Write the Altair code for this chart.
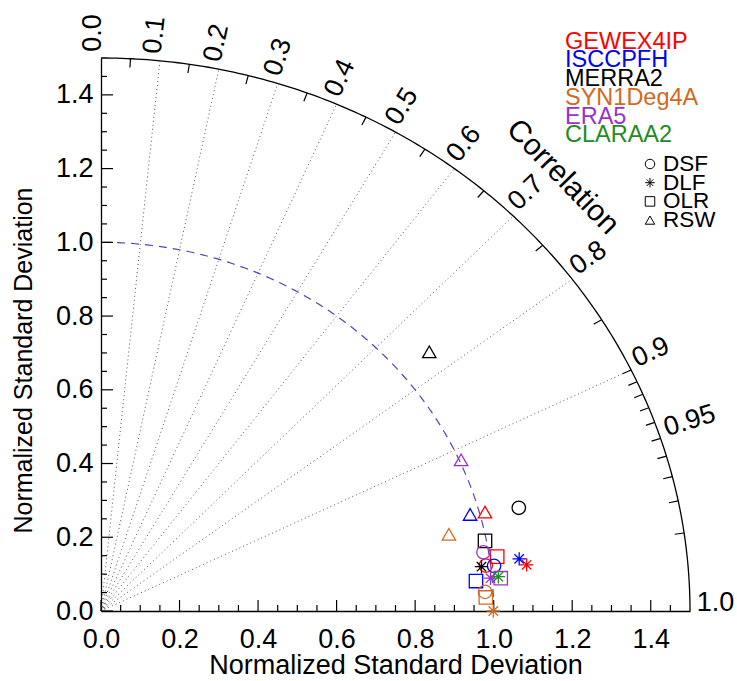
import altair as alt
import numpy as np
import pandas as pd

# ---------------- data ----------------
datasets = ["GEWEX4IP", "ISCCPFH", "MERRA2", "SYN1Deg4A", "ERA5", "CLARAA2"]
ds_colors = ["#FF0000", "#0000FF", "#000000", "#D2691E", "#9932CC", "#228B22"]
variables = ["DSF", "DLF", "OLR", "RSW"]

pt_dataset = ["GEWEX4IP"] * 4 + ["ISCCPFH"] * 4 + ["MERRA2"] * 4 + ["SYN1Deg4A"] * 4 + ["ERA5"] * 4 + ["CLARAA2"]
pt_var = ["DSF", "DLF", "OLR", "RSW"] * 5 + ["DLF"]
pt_std = [0.9877, 1.0912, 1.0197, 1.0141,
          1.0085, 1.0743, 0.9584, 0.9758,
          1.1002, 0.9764, 0.9963, 1.0923,
          0.9794, 0.9990, 0.9807, 0.9101,
          0.9869, 0.9960, 1.0219, 1.0045,
          1.0162]
pt_corr = [0.9922, 0.9934, 0.9895, 0.9644,
           0.9926, 0.9913, 0.9964, 0.9633,
           0.9671, 0.9924, 0.9816, 0.7654,
           0.9986, 1.0000, 0.9993, 0.9735,
           0.9869, 0.9960, 0.9962, 0.9129,
           0.9958]

corr_labels = [0.0, 0.1, 0.2, 0.3, 0.4, 0.5, 0.6, 0.7, 0.8, 0.9, 0.95, 1.0]
corr_label_text = ["0.0", "0.1", "0.2", "0.3", "0.4", "0.5", "0.6", "0.7", "0.8", "0.9", "0.95", "1.0"]
corr_rays = [0.1, 0.2, 0.3, 0.4, 0.5, 0.6, 0.7, 0.8, 0.9]
corr_ticks = [0.05, 0.15, 0.25, 0.35, 0.45, 0.55, 0.65, 0.75, 0.85,
              0.9, 0.91, 0.92, 0.93, 0.94, 0.95, 0.96, 0.97, 0.98, 0.99]
axis_labels = [0.0, 0.2, 0.4, 0.6, 0.8, 1.0, 1.2, 1.4]
axis_minor = [0.05, 0.1, 0.15, 0.25, 0.3, 0.35, 0.45, 0.5, 0.55, 0.65, 0.7, 0.75,
              0.85, 0.9, 0.95, 1.05, 1.1, 1.15, 1.25, 1.3, 1.35, 1.45]

W, H = 589, 553
RMAX = 1.5
FONT = "Liberation Sans"
ASTER = "M0,-1L0,1M-1,0L1,0M-0.7,-0.7L0.7,0.7M-0.7,0.7L0.7,-0.7"
shape_range = ["circle", ASTER, "square", "triangle-up"]

# ---------------- derived tables ----------------
pts = pd.DataFrame({"dataset": pt_dataset, "var": pt_var, "std": pt_std, "corr": pt_corr})
pts["x"] = pts["std"] * pts["corr"]
pts["y"] = pts["std"] * np.sqrt(np.clip(1 - pts["corr"] ** 2, 0, None))

ang = np.linspace(0, np.pi / 2, 181)
arc_outer = pd.DataFrame({"x": RMAX * np.cos(ang), "y": RMAX * np.sin(ang), "o": np.arange(len(ang))})
arc_ref = pd.DataFrame({"x": np.cos(ang), "y": np.sin(ang), "o": np.arange(len(ang))})

rays = pd.DataFrame({"c": corr_rays})
rays["x"] = 0.0
rays["y"] = 0.0
rays["x2"] = RMAX * rays["c"]
rays["y2"] = RMAX * np.sqrt(1 - rays["c"] ** 2)

tk = pd.DataFrame({"c": corr_ticks})
s = np.sqrt(1 - tk["c"] ** 2)
tk["x"] = RMAX * tk["c"]
tk["y"] = RMAX * s
tk["x2"] = (RMAX - 0.024) * tk["c"]
tk["y2"] = (RMAX - 0.024) * s

lab = pd.DataFrame({"c": corr_labels, "t": corr_label_text})
ls = np.sqrt(1 - lab["c"] ** 2)
lab["x"] = 1.517 * lab["c"]
lab["y"] = 1.517 * ls
phi = np.degrees(np.arctan2(ls * H / RMAX, lab["c"] * W / RMAX))
lab["ang"] = (360 - phi) % 360

xscale = alt.Scale(domain=[0, RMAX], nice=False, zero=False)
yscale = alt.Scale(domain=[0, RMAX], nice=False, zero=False)

xaxis = alt.Axis(values=axis_labels, format=".1f", ticks=False, tickSize=0, grid=False,
                 labelFontSize=27, labelFont=FONT, labelPadding=15, labelFlush=False,
                 labelColor="black", title="Normalized Standard Deviation", titleFont=FONT,
                 titleFontSize=27, titleFontWeight="normal", titleColor="black", titlePadding=0,
                 domainColor="black", domainWidth=1.3)
yaxis = alt.Axis(values=axis_labels, format=".1f", ticks=False, tickSize=0, grid=False,
                 labelFontSize=27, labelFont=FONT, labelPadding=8, labelFlush=False,
                 labelColor="black", title="Normalized Standard Deviation", titleFont=FONT,
                 titleFontSize=25, titleFontWeight="normal", titleColor="black", titlePadding=19,
                 titleY=302, domainColor="black", domainWidth=1.3)


def X(field):
    return alt.X(field, scale=xscale, axis=xaxis)


def Y(field):
    return alt.Y(field, scale=yscale, axis=yaxis)


outer = alt.Chart(arc_outer).mark_line(color="black", strokeWidth=1.3).encode(
    x=X("x:Q"), y=Y("y:Q"), order="o:Q")

ref = alt.Chart(arc_ref).mark_line(color="#6040B0", strokeWidth=1.2, strokeDash=[8, 6]).encode(
    x=X("x:Q"), y=Y("y:Q"), order="o:Q")

ray_layer = alt.Chart(rays).mark_rule(color="#555555", strokeWidth=1, strokeDash=[1, 3]).encode(
    x=X("x:Q"), y=Y("y:Q"), x2="x2:Q", y2="y2:Q")

tick_layer = alt.Chart(tk).mark_rule(color="black", strokeWidth=1.2).encode(
    x=X("x:Q"), y=Y("y:Q"), x2="x2:Q", y2="y2:Q")

lab_layer = alt.Chart(lab).mark_text(font=FONT, fontSize=27, align="left", baseline="alphabetic",
                                     color="black").encode(
    x=X("x:Q"), y=Y("y:Q"), text="t:N", angle=alt.Angle("ang:Q", scale=None))

corr_title = alt.Chart(pd.DataFrame({"t": ["Correlation"], "x": [1.176], "y": [1.177]})).mark_text(
    font=FONT, fontSize=30, align="center", baseline="middle", angle=46, color="black").encode(
    x=X("x:Q"), y=Y("y:Q"), text="t:N")

ymaj = pd.DataFrame({"x": axis_labels})
ymin = pd.DataFrame({"x": axis_minor})
ymaj["y"] = ymaj["x"]
ymin["y"] = ymin["x"]
left_major = alt.Chart(ymaj).mark_rule(color="black", strokeWidth=1.2).encode(
    y=Y("y:Q"), x=alt.value(0), x2=alt.value(12))
left_minor = alt.Chart(ymin).mark_rule(color="black", strokeWidth=1.2).encode(
    y=Y("y:Q"), x=alt.value(0), x2=alt.value(6))
bot_major = alt.Chart(ymaj).mark_rule(color="black", strokeWidth=1.2).encode(
    x=X("x:Q"), y=alt.value(H), y2=alt.value(H - 11))
bot_minor = alt.Chart(ymin).mark_rule(color="black", strokeWidth=1.2).encode(
    x=X("x:Q"), y=alt.value(H), y2=alt.value(H - 6))

points = alt.Chart(pts).mark_point(filled=False, size=180, strokeWidth=1.3, opacity=1).encode(
    x=X("x:Q"), y=Y("y:Q"),
    color=alt.Color("dataset:N", scale=alt.Scale(domain=datasets, range=ds_colors), legend=None),
    shape=alt.Shape("var:N", scale=alt.Scale(domain=variables, range=shape_range), legend=None))

# dataset legend (coloured names), pixel positions relative to plot area
leg1 = pd.DataFrame({"t": datasets, "i": range(len(datasets))})
leg1["px"] = 464
leg1["py"] = -16.3 + 18.7 * leg1["i"]
leg1_layer = alt.Chart(leg1).mark_text(font=FONT, fontSize=23.5, align="left", baseline="middle").encode(
    x=alt.X("px:Q", scale=None), y=alt.Y("py:Q", scale=None), text="t:N",
    color=alt.Color("t:N", scale=alt.Scale(domain=datasets, range=ds_colors), legend=None))

leg2 = pd.DataFrame({"t": variables, "i": range(len(variables))})
leg2["px"] = 549
leg2["tx"] = 562
leg2["py"] = 106 + 18.7 * leg2["i"]
leg2_sym = alt.Chart(leg2).mark_point(filled=False, size=90, strokeWidth=1, color="black", opacity=1).encode(
    x=alt.X("px:Q", scale=None), y=alt.Y("py:Q", scale=None),
    shape=alt.Shape("t:N", scale=alt.Scale(domain=variables, range=shape_range), legend=None))
leg2_txt = alt.Chart(leg2).mark_text(font=FONT, fontSize=22.5, align="left", baseline="middle", color="black").encode(
    x=alt.X("tx:Q", scale=None), y=alt.Y("py:Q", scale=None), text="t:N")

chart = alt.layer(
    outer, ray_layer, ref, tick_layer, left_major, left_minor, bot_major, bot_minor,
    lab_layer, corr_title, points, leg1_layer, leg2_sym, leg2_txt
).resolve_scale(color="independent", shape="independent").properties(
    width=W, height=H,
    padding={"left": 101, "top": 58, "right": 47, "bottom": 70},
    autosize=alt.AutoSizeParams(type="none"),
    background="white"
).configure_view(stroke=None)

chart.save("out.html", embed_options={"renderer": "svg", "actions": False})
